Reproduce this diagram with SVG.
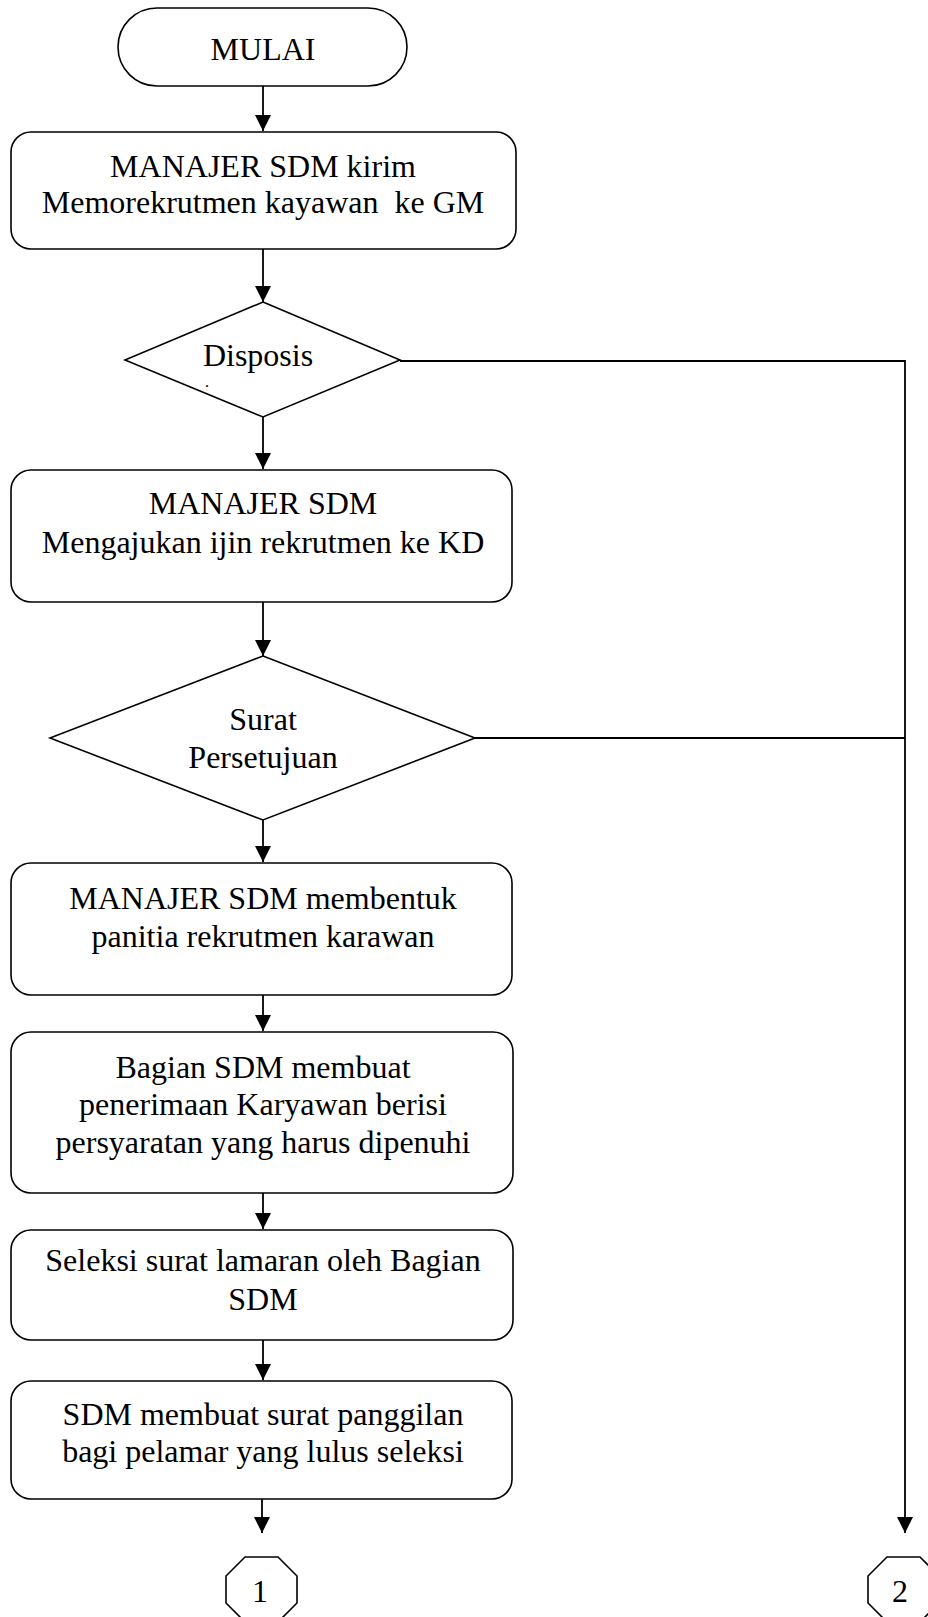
<svg xmlns="http://www.w3.org/2000/svg" width="928" height="1617" viewBox="0 0 928 1617">
<style>
.shape{fill:#fff;stroke:#000;stroke-width:1.6}
.line{fill:none;stroke:#000;stroke-width:1.8}
text{font-family:"Liberation Serif","Times New Roman",serif;font-size:32px;fill:#000;text-anchor:middle;white-space:pre}
</style>
<defs>
<marker id="arr" viewBox="0 0 16 16" refX="16" refY="8" markerWidth="16" markerHeight="16" markerUnits="userSpaceOnUse" orient="auto">
<path d="M0,0 L16,8 L0,16 z" fill="#000"/>
</marker>
</defs>
<rect width="928" height="1617" fill="#fff"/>
<g id="connectors">
<line class="line" x1="263" y1="86" x2="263" y2="131" marker-end="url(#arr)"/>
<line class="line" x1="263" y1="249" x2="263" y2="302" marker-end="url(#arr)"/>
<line class="line" x1="263" y1="417" x2="263" y2="469" marker-end="url(#arr)"/>
<line class="line" x1="263" y1="602" x2="263" y2="656" marker-end="url(#arr)"/>
<line class="line" x1="263" y1="820" x2="263" y2="862" marker-end="url(#arr)"/>
<line class="line" x1="263" y1="995" x2="263" y2="1031" marker-end="url(#arr)"/>
<line class="line" x1="263" y1="1193" x2="263" y2="1229" marker-end="url(#arr)"/>
<line class="line" x1="263" y1="1340" x2="263" y2="1380" marker-end="url(#arr)"/>
<line class="line" x1="262" y1="1499" x2="262" y2="1533" marker-end="url(#arr)"/>
<path class="line" d="M400,361 H905 V1533" marker-end="url(#arr)"/>
<line class="line" x1="475" y1="738" x2="905" y2="738"/>
</g>
<g id="mulai">
<rect class="shape" x="118" y="8" width="289" height="78" rx="39" ry="39"/>
<text x="263" y="60">MULAI</text>
</g>
<g id="kirim-memo">
<rect class="shape" x="11" y="132" width="505" height="117" rx="20" ry="20"/>
<text x="263" y="177">MANAJER SDM kirim</text>
<text x="263" y="213" xml:space="preserve">Memorekrutmen kayawan  ke GM</text>
</g>
<g id="disposisi">
<polygon class="shape" points="263,302 400,360 263,417 125,360"/>
<text x="258" y="366">Disposis</text>
<text x="207" y="387" style="font-size:12px;font-weight:bold">.</text>
</g>
<g id="ijin-rekrutmen">
<rect class="shape" x="11" y="470" width="501" height="132" rx="20" ry="20"/>
<text x="263" y="514">MANAJER SDM</text>
<text x="263" y="553">Mengajukan ijin rekrutmen ke KD</text>
</g>
<g id="surat-persetujuan">
<polygon class="shape" points="263,656 475,738 263,820 50,738"/>
<text x="263" y="730">Surat</text>
<text x="263" y="768">Persetujuan</text>
</g>
<g id="panitia">
<rect class="shape" x="11" y="863" width="501" height="132" rx="20" ry="20"/>
<text x="263" y="909">MANAJER SDM membentuk</text>
<text x="263" y="947">panitia rekrutmen karawan</text>
</g>
<g id="penerimaan">
<rect class="shape" x="11" y="1032" width="502" height="161" rx="20" ry="20"/>
<text x="263" y="1078">Bagian SDM membuat</text>
<text x="263" y="1115">penerimaan Karyawan berisi</text>
<text x="263" y="1153">persyaratan yang harus dipenuhi</text>
</g>
<g id="seleksi">
<rect class="shape" x="11" y="1230" width="502" height="110" rx="20" ry="20"/>
<text x="263" y="1271">Seleksi surat lamaran oleh Bagian</text>
<text x="263" y="1310">SDM</text>
</g>
<g id="panggilan">
<rect class="shape" x="11" y="1381" width="501" height="118" rx="20" ry="20"/>
<text x="263" y="1425">SDM membuat surat panggilan</text>
<text x="263" y="1462">bagi pelamar yang lulus seleksi</text>
</g>
<g id="konektor-1">
<polygon class="shape" points="245,1557 278,1557 297,1576 297,1603 278,1622 245,1622 226,1603 226,1576"/>
<text x="260" y="1602">1</text>
</g>
<g id="konektor-2">
<polygon class="shape" points="887,1557 920,1557 939,1576 939,1603 920,1622 887,1622 868,1603 868,1576"/>
<text x="900" y="1602">2</text>
</g>
</svg>
